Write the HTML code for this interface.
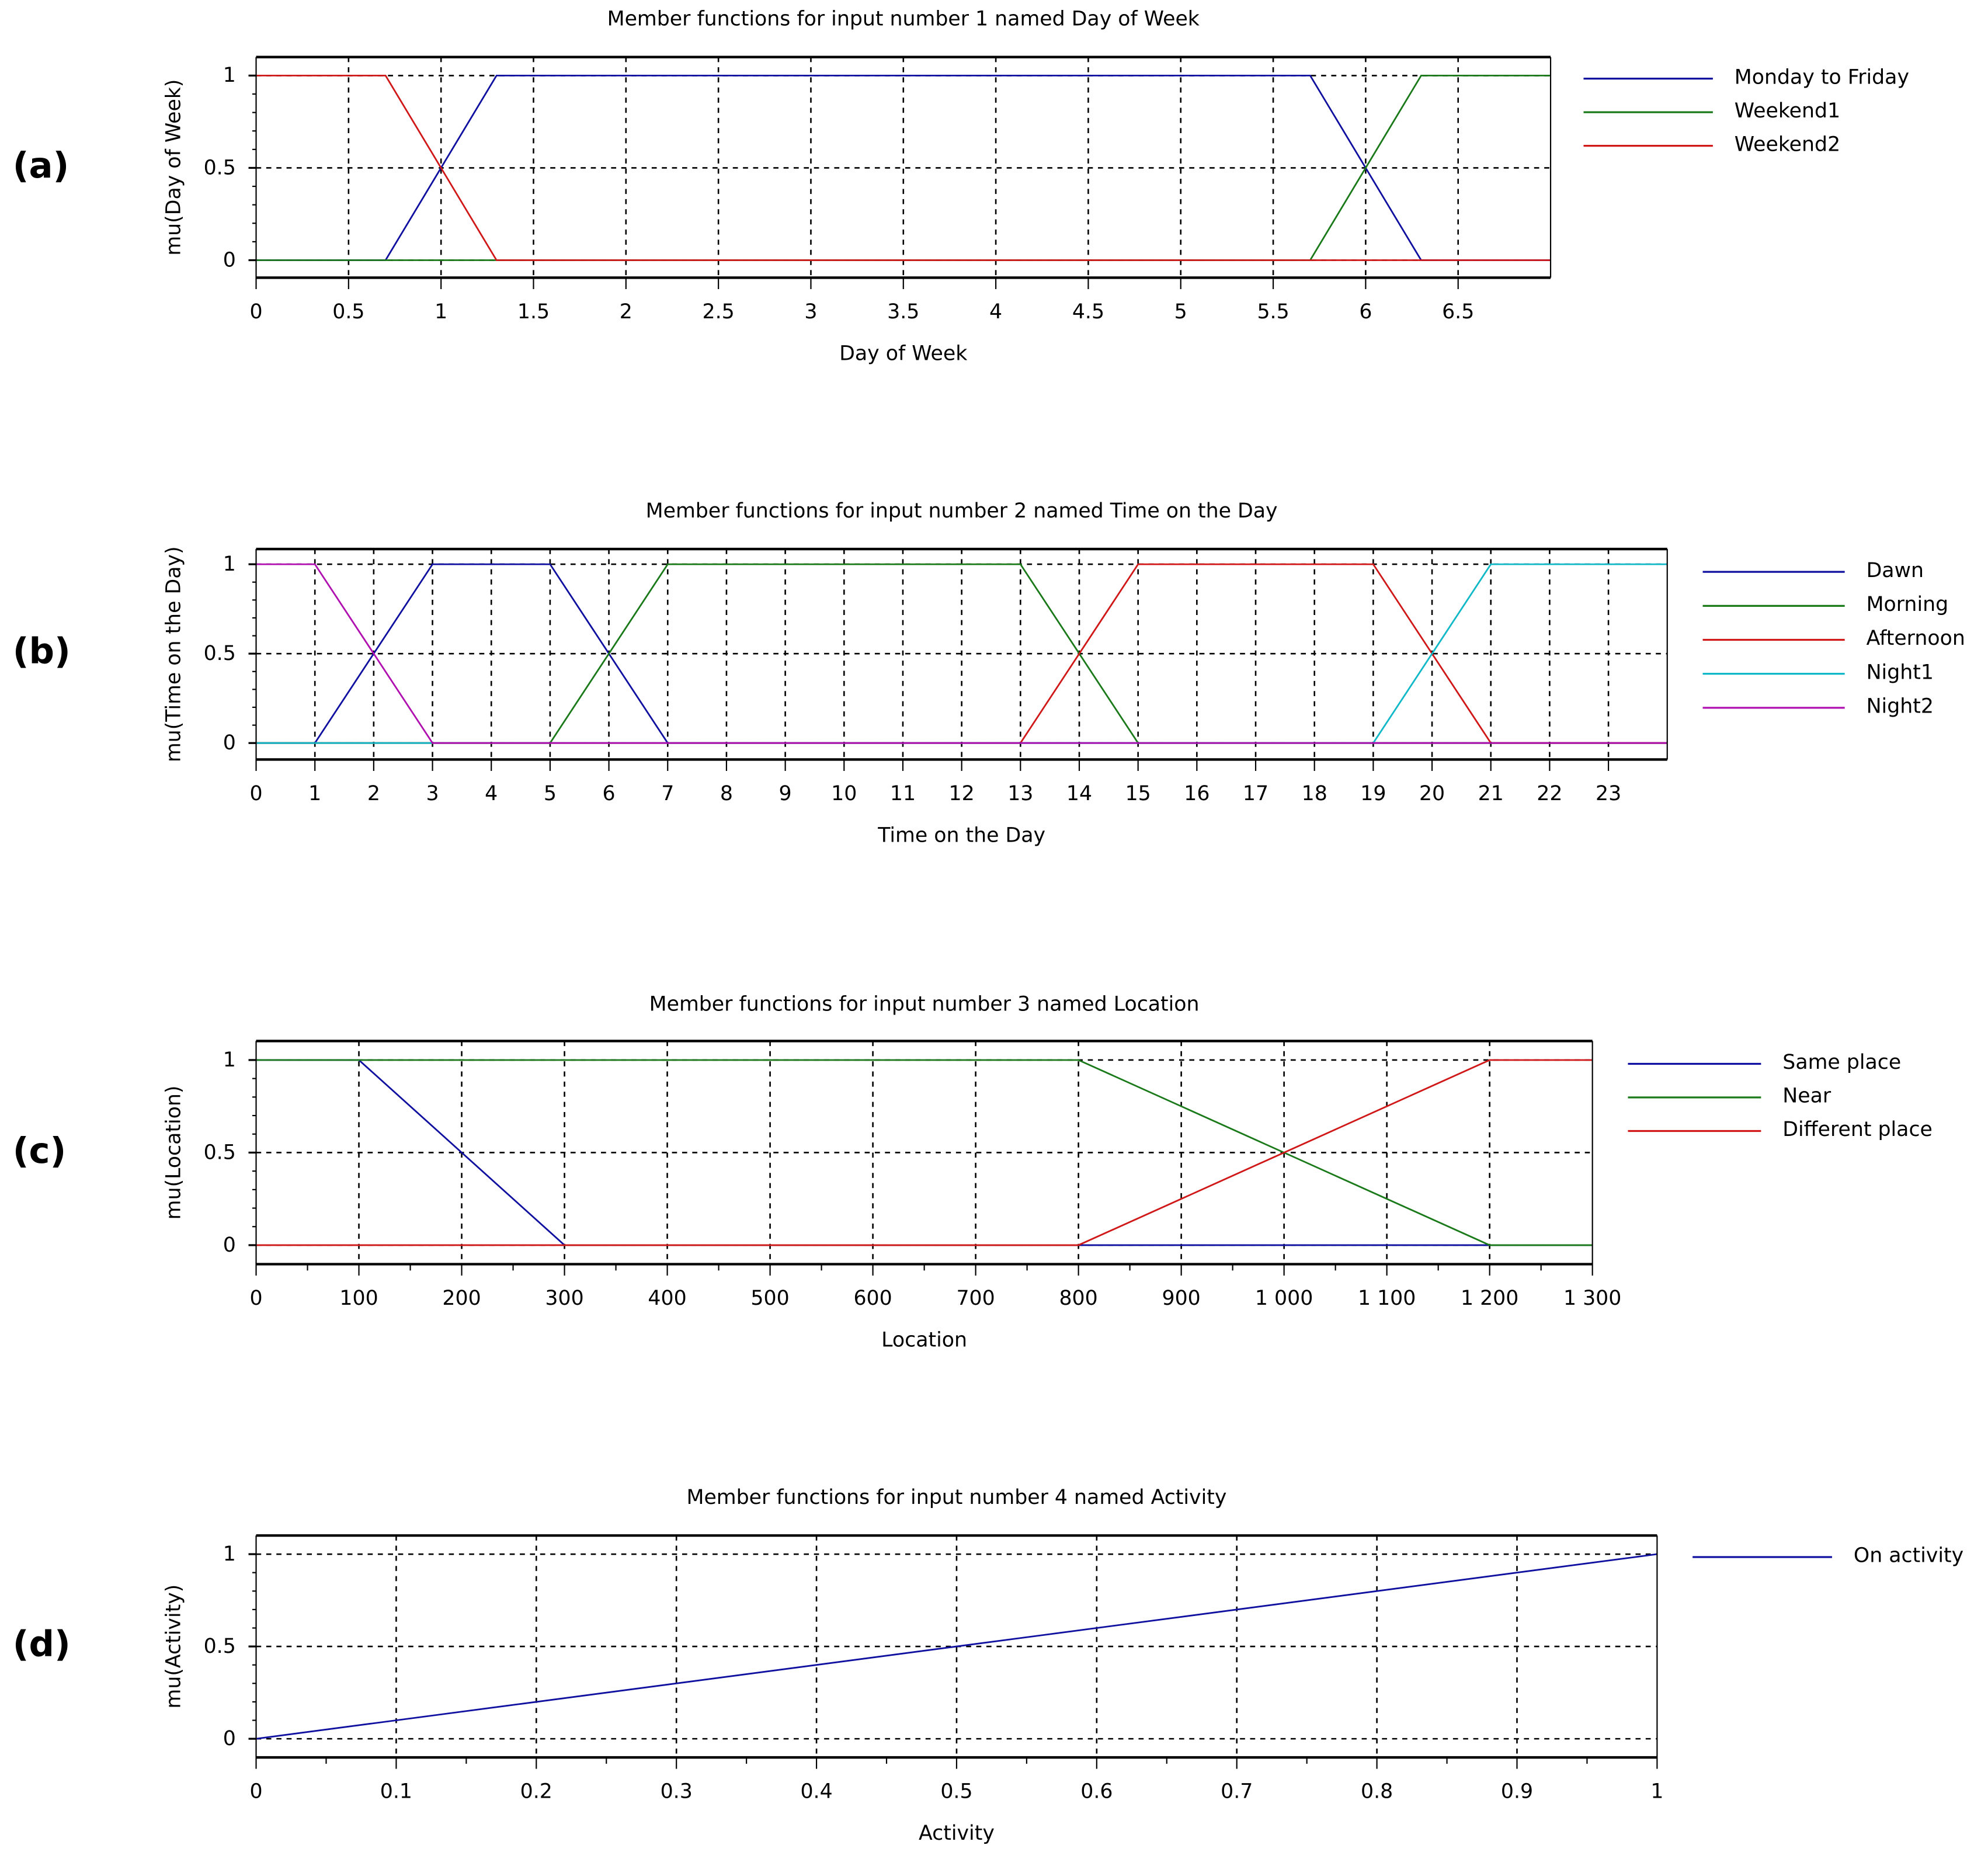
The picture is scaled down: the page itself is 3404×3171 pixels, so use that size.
<!DOCTYPE html>
<html><head><meta charset="utf-8"><style>
html,body{margin:0;padding:0;background:#fff;width:3404px;height:3171px;overflow:hidden}
svg{display:block}
text{font-family:"DejaVu Sans","Liberation Sans",sans-serif;fill:#000}
</style></head><body>
<svg id="chart" width="3404" height="3171" viewBox="0 0 1568 1460.6" preserveAspectRatio="none" xmlns="http://www.w3.org/2000/svg"></svg>
<script>
// ---- Panel (a) data ----
const aTicks = [0,0.5,1,1.5,2,2.5,3,3.5,4,4.5,5,5.5,6,6.5];
const aTickLabels = ["0","0.5","1","1.5","2","2.5","3","3.5","4","4.5","5","5.5","6","6.5"];
const aNames = ["Monday to Friday","Weekend1","Weekend2"];
const aMonFriX = [0,0.7,1.3,5.7,6.3,7];
const aMonFriY = [0,0,1,1,0,0];
const aWe1X = [0,5.7,6.3,7];
const aWe1Y = [0,0,1,1];
const aWe2X = [0,0.7,1.3,7];
const aWe2Y = [1,1,0,0];
// ---- Panel (b) data ----
const bTicks = [0,1,2,3,4,5,6,7,8,9,10,11,12,13,14,15,16,17,18,19,20,21,22,23];
const bTickLabels = bTicks.map(String);
const bNames = ["Dawn","Morning","Afternoon","Night1","Night2"];
const bDawnX = [0,1,3,5,7,24];       const bDawnY = [0,0,1,1,0,0];
const bMorningX = [0,5,7,13,15,24];  const bMorningY = [0,0,1,1,0,0];
const bAfterX = [0,13,15,19,21,24];  const bAfterY = [0,0,1,1,0,0];
const bNight1X = [0,19,21,24];       const bNight1Y = [0,0,1,1];
const bNight2X = [0,1,3,24];         const bNight2Y = [1,1,0,0];
// ---- Panel (c) data ----
const cTicks = [0,100,200,300,400,500,600,700,800,900,1000,1100,1200,1300];
const cTickLabels = ["0","100","200","300","400","500","600","700","800","900","1 000","1 100","1 200","1 300"];
const cNames = ["Same place","Near","Different place"];
const cSameX = [0,100,300,1300];      const cSameY = [1,1,0,0];
const cNearX = [0,800,1200,1300];     const cNearY = [1,1,0,0];
const cDiffX = [0,800,1200,1300];     const cDiffY = [0,0,1,1];
// ---- Panel (d) data ----
const dTicks = [0,0.1,0.2,0.3,0.4,0.5,0.6,0.7,0.8,0.9,1];
const dTickLabels = ["0","0.1","0.2","0.3","0.4","0.5","0.6","0.7","0.8","0.9","1"];
const dNames = ["On activity"];
const dOnX = [0,1];  const dOnY = [0,1];

const yTicks = [0,0.5,1];
const yTickLabels = ["0","0.5","1"];

const BLUE="#1010a0", GREEN="#1a7a1a", RED="#d01818", CYAN="#10b8c8", MAG="#b010b0";
const svg = document.getElementById('chart');
const NS = "http://www.w3.org/2000/svg";
function el(tag, attrs, parent){
  const e = document.createElementNS(NS, tag);
  for (const k in attrs) e.setAttribute(k, attrs[k]);
  (parent||svg).appendChild(e); return e;
}
function txt(x,y,s,size,anchor,parent,extra){
  const t = el('text',Object.assign({x:x,y:y,'font-size':size,'text-anchor':anchor||'middle'},extra||{}),parent);
  t.textContent = s; return t;
}

function panel(cfg){
  const g = el('g',{});
  
  
  const {L,R,T,B,y1,y0,xmin,xmax} = cfg;
  const sx = v => L + (v-xmin)/(xmax-xmin)*(R-L);
  const sy = v => y0 + (y1-y0)*v;
  // title
  const tt = txt((L+R)/2, cfg.titleY, cfg.title, 16, 'middle', g);
  
  
  // panel label
  const pl = txt(10, cfg.labelY, cfg.label, 28, 'start', g, {'font-weight':'bold','font-family':'Liberation Sans, sans-serif'});
  
  
  // grid
  const grid = el('g',{stroke:'#000','stroke-width':1.2,'stroke-dasharray':'4,4'},g);
  
  
  cfg.ticks.forEach(v=>{ if(v>xmin && v<xmax) el('line',{x1:sx(v),x2:sx(v),y1:T,y2:B},grid); });
  yTicks.forEach(v=>{ el('line',{x1:L,x2:R,y1:sy(v),y2:sy(v)},grid); });
  // series
  cfg.series.forEach(s=>{
    const pts = s.x.map((v,i)=>sx(v).toFixed(2)+','+sy(s.y[i]).toFixed(2)).join(' ');
    const p = el('polyline',{points:pts,fill:'none',stroke:s.color,'stroke-width':1.3},g);
    
    
  });
  // frame
  const fr = el('g',{stroke:'#000'},g);
  
  
  el('line',{x1:L,x2:R,y1:T,y2:T,'stroke-width':2},fr);
  el('line',{x1:L,x2:R,y1:B,y2:B,'stroke-width':2},fr);
  el('line',{x1:L,x2:L,y1:T,y2:B,'stroke-width':1},fr);
  el('line',{x1:R,x2:R,y1:T,y2:B,'stroke-width':1},fr);
  // x ticks
  const xa = el('g',{},g);
  
  
  cfg.ticks.forEach((v,i)=>{
    el('line',{x1:sx(v),x2:sx(v),y1:B,y2:B+9,stroke:'#000','stroke-width':1},xa);
    txt(sx(v), B+32, cfg.tickLabels[i], 16, 'middle', xa);
  });
  if(cfg.minor){ for(let i=0;i<cfg.ticks.length-1;i++){ const m=(cfg.ticks[i]+cfg.ticks[i+1])/2; el('line',{x1:sx(m),x2:sx(m),y1:B,y2:B+5,stroke:'#000','stroke-width':1},xa);} }
  const xl = txt((L+R)/2, B+65, cfg.xlabel, 16, 'middle', g);
  
  
  // y ticks
  const ya = el('g',{},g);
  
  
  yTicks.forEach((v,i)=>{
    el('line',{x1:L-6,x2:L,y1:sy(v),y2:sy(v),stroke:'#000','stroke-width':1.5},ya);
    txt(L-16, sy(v)+5, yTickLabels[i], 16, 'end', ya);
  });
  for(let k=1;k<10;k++){ if(k===5) continue; el('line',{x1:L-3,x2:L,y1:sy(k/10),y2:sy(k/10),stroke:'#000','stroke-width':1},ya); }
  const yc=(T+B)/2;
  const yl = txt(142, yc, cfg.ylabel, 16, 'middle', g, {transform:'rotate(-90 142 '+yc+')'});
  
  
  // legend
  const lg = el('g',{},g);
  
  
  cfg.series.forEach((s,i)=>{
    const y = cfg.legY + i*cfg.legStep;
    const e = el('g',{},lg);
    
    
    el('line',{x1:cfg.legX1,x2:cfg.legX2,y1:y,y2:y,stroke:s.color,'stroke-width':1.5},e);
    txt(cfg.legX2+17, y+4, s.name, 16, 'start', e);
  });
}

panel({id:'a',label:'(a)',labelY:140,title:'Member functions for input number 1 named Day of Week',titleY:20,
  L:202,R:1223,T:45,B:219,y1:59.6,y0:205.2,xmin:0,xmax:7,ticks:aTicks,tickLabels:aTickLabels,
  xlabel:'Day of Week',ylabel:'mu(Day of Week)',legX1:1249,legX2:1351,legY:62,legStep:26.5,
  series:[{name:aNames[0],x:aMonFriX,y:aMonFriY,color:BLUE},{name:aNames[1],x:aWe1X,y:aWe1Y,color:GREEN},{name:aNames[2],x:aWe2X,y:aWe2Y,color:RED}]});
panel({id:'b',label:'(b)',labelY:523,title:'Member functions for input number 2 named Time on the Day',titleY:408,
  L:202,R:1315,T:433,B:599,y1:445,y0:586,xmin:0,xmax:24,ticks:bTicks,tickLabels:bTickLabels,
  xlabel:'Time on the Day',ylabel:'mu(Time on the Day)',legX1:1343,legX2:1455,legY:451,legStep:26.8,
  series:[{name:bNames[0],x:bDawnX,y:bDawnY,color:BLUE},{name:bNames[1],x:bMorningX,y:bMorningY,color:GREEN},{name:bNames[2],x:bAfterX,y:bAfterY,color:RED},{name:bNames[3],x:bNight1X,y:bNight1Y,color:CYAN},{name:bNames[4],x:bNight2X,y:bNight2Y,color:MAG}]});
panel({id:'c',label:'(c)',labelY:917,title:'Member functions for input number 3 named Location',titleY:797,
  L:202,R:1256,T:821,B:997,y1:836,y0:982,xmin:0,xmax:1300,ticks:cTicks,tickLabels:cTickLabels,minor:true,
  xlabel:'Location',ylabel:'mu(Location)',legX1:1284,legX2:1389,legY:839,legStep:26.5,
  series:[{name:cNames[0],x:cSameX,y:cSameY,color:BLUE},{name:cNames[1],x:cNearX,y:cNearY,color:GREEN},{name:cNames[2],x:cDiffX,y:cDiffY,color:RED}]});
panel({id:'d',label:'(d)',labelY:1306,title:'Member functions for input number 4 named Activity',titleY:1186,
  L:202,R:1307,T:1211,B:1386,y1:1225.7,y0:1371.3,xmin:0,xmax:1,ticks:dTicks,tickLabels:dTickLabels,minor:true,
  xlabel:'Activity',ylabel:'mu(Activity)',legX1:1335,legX2:1445,legY:1228,legStep:26,
  series:[{name:dNames[0],x:dOnX,y:dOnY,color:BLUE}]});
</script>
</body></html>
